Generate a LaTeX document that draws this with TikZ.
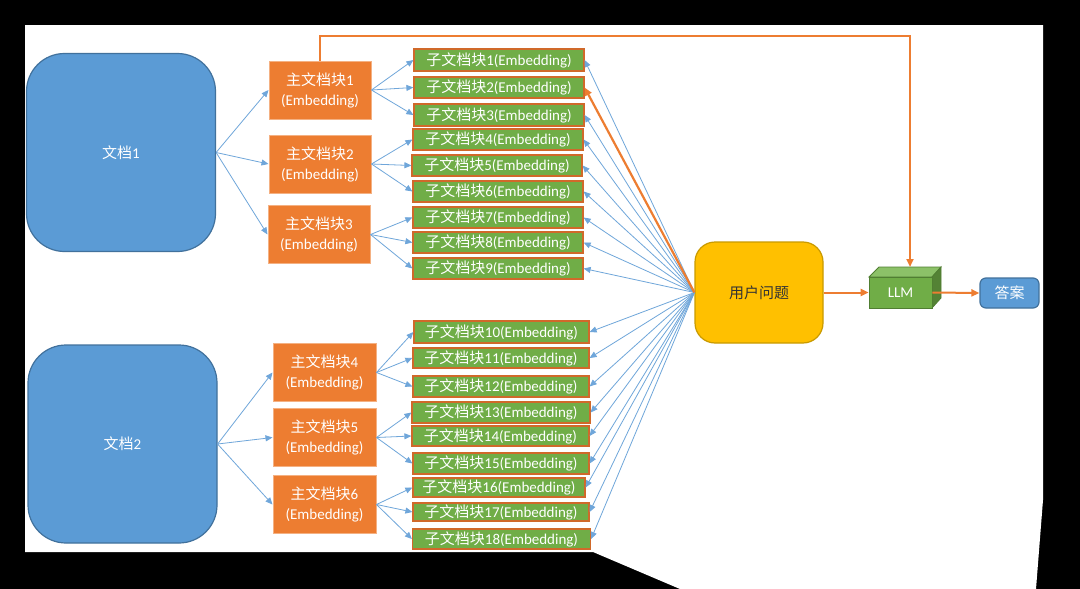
\documentclass[tikz,border=0pt]{standalone}
\usepackage{fontspec}
\setmainfont{Carlito}
\newfontfamily\cjk{Noto Sans CJK SC}
\usetikzlibrary{arrows.meta}
\newcommand\zh[1]{{\cjk #1}}
\definecolor{docblue}{HTML}{5B9BD5}
\definecolor{docline}{HTML}{41719C}
\definecolor{orangef}{HTML}{ED7D31}
\definecolor{orangeline}{HTML}{F4B183}
\definecolor{subline}{HTML}{D0692A}
\definecolor{greenf}{HTML}{70AD47}
\definecolor{greenline}{HTML}{507E32}
\definecolor{greentop}{HTML}{8CC168}
\definecolor{greenside}{HTML}{548235}
\definecolor{yellowf}{HTML}{FFC000}
\definecolor{yellowline}{HTML}{C99A00}
\definecolor{bluearrow}{HTML}{6FA6DA}
\begin{document}
\begin{tikzpicture}[x=1pt,y=-1pt,
  txt/.style={font=\fontsize{15}{20}\selectfont},
  docbox/.style={txt, draw=docline, fill=docblue, line width=1.2pt, rounded corners=38pt, text=white, inner sep=0pt},
  mainbox/.style={txt, draw=orangeline, fill=orangef, line width=1pt, text=white, align=center, inner sep=0pt, minimum width=102pt, minimum height=58pt},
  subbox/.style={txt, draw=subline, fill=greenf, line width=1.2pt, text=white, inner sep=0pt, minimum height=21pt},
  barrow/.style={draw=bluearrow, line width=0.8pt, -{Triangle[length=7pt,width=6pt]}},
  oarrow/.style={draw=orangef, line width=2pt, -{Triangle[length=8pt,width=7pt]}}
]
\useasboundingbox (0,0) rectangle (1080,589);
% frame
\fill[black] (0,0) rectangle (1080,589);
\fill[white] (25,25) -- (1043,25) -- (1043,500) -- (1036,589) -- (680,589) -- (593,552) -- (25,552) -- cycle;

% documents
\node[docbox, minimum width=189pt, minimum height=198pt] (d1) at (121,152.5) {\zh{文档}1};
\node[docbox, minimum width=189pt, minimum height=198pt] (d2) at (122.5,444) {\zh{文档}2};

% main chunks
\node[mainbox] (m1) at (320,90) {\zh{主文档块}1\\(Embedding)};
\node[mainbox] (m2) at (320,164) {\zh{主文档块}2\\(Embedding)};
\node[mainbox] (m3) at (319,234.5) {\zh{主文档块}3\\(Embedding)};
\node[mainbox, minimum width=103pt] (m4) at (324.5,372.5) {\zh{主文档块}4\\(Embedding)};
\node[mainbox, minimum width=103pt] (m5) at (324.5,437.5) {\zh{主文档块}5\\(Embedding)};
\node[mainbox, minimum width=103pt] (m6) at (324.5,504.5) {\zh{主文档块}6\\(Embedding)};

% sub chunks
\node[subbox, minimum width=170pt, minimum height=22pt] (s1) at (499,60) {\zh{子文档块}1(Embedding)};
\node[subbox, minimum width=170pt] (s2) at (499,87.5) {\zh{子文档块}2(Embedding)};
\node[subbox, minimum width=170pt, minimum height=22pt] (s3) at (499,115) {\zh{子文档块}3(Embedding)};
\node[subbox, minimum width=170pt] (s4) at (498,139.5) {\zh{子文档块}4(Embedding)};
\node[subbox, minimum width=170pt] (s5) at (497,165.5) {\zh{子文档块}5(Embedding)};
\node[subbox, minimum width=170pt] (s6) at (498,191.5) {\zh{子文档块}6(Embedding)};
\node[subbox, minimum width=170pt] (s7) at (498,217.5) {\zh{子文档块}7(Embedding)};
\node[subbox, minimum width=170pt] (s8) at (498,242.5) {\zh{子文档块}8(Embedding)};
\node[subbox, minimum width=170pt] (s9) at (498,268.5) {\zh{子文档块}9(Embedding)};
\node[subbox, minimum width=175pt, minimum height=22pt] (s10) at (501.5,332) {\zh{子文档块}10(Embedding)};
\node[subbox, minimum width=176pt, minimum height=20pt] (s11) at (501,358) {\zh{子文档块}11(Embedding)};
\node[subbox, minimum width=176pt] (s12) at (501,386.5) {\zh{子文档块}12(Embedding)};
\node[subbox, minimum width=178pt] (s13) at (501,412.5) {\zh{子文档块}13(Embedding)};
\node[subbox, minimum width=177pt, minimum height=20pt] (s14) at (500.5,436) {\zh{子文档块}14(Embedding)};
\node[subbox, minimum width=176pt] (s15) at (501,463.5) {\zh{子文档块}15(Embedding)};
\node[subbox, minimum width=172pt, minimum height=19pt] (s16) at (499,487.5) {\zh{子文档块}16(Embedding)};
\node[subbox, minimum width=176pt, minimum height=18pt] (s17) at (501,512) {\zh{子文档块}17(Embedding)};
\node[subbox, minimum width=178pt, minimum height=20pt] (s18) at (501.5,539) {\zh{子文档块}18(Embedding)};

% user question
\node[txt, draw=yellowline, fill=yellowf, line width=1.2pt, rounded corners=20pt, minimum width=128pt, minimum height=101pt, text=black!80, inner sep=0pt] (q) at (759,292.5) {\zh{用户问题}};

% LLM cube
\fill[greentop, draw=greenline, line width=0.8pt] (869,277) -- (879,267) -- (941,267) -- (932,277) -- cycle;
\fill[greenside, draw=greenline, line width=0.8pt] (932,277) -- (941,267) -- (941,298) -- (932,308) -- cycle;
\node[txt, draw=greenline, fill=greenf, line width=0.8pt, minimum width=63pt, minimum height=31pt, text=white, inner sep=0pt] (llm) at (900.5,292.5) {LLM};
\coordinate (llmtop) at (910,267);

% answer
\node[txt, draw=docline, fill=docblue, line width=1.2pt, rounded corners=6pt, minimum width=59pt, minimum height=30pt, text=white, inner sep=0pt] (ans) at (1009.5,293) {\zh{答案}};

% doc -> main
\foreach \m in {m1,m2,m3} \draw[barrow] (d1.east) -- (\m.west);
\foreach \m in {m4,m5,m6} \draw[barrow] (d2.east) -- (\m.west);
% main -> sub
\foreach \s in {s1,s2,s3} \draw[barrow] (m1.east) -- (\s.west);
\foreach \s in {s4,s5,s6} \draw[barrow] (m2.east) -- (\s.west);
\foreach \s in {s7,s8,s9} \draw[barrow] (m3.east) -- (\s.west);
\foreach \s in {s10,s11,s12} \draw[barrow] (m4.east) -- (\s.west);
\foreach \s in {s13,s14,s15} \draw[barrow] (m5.east) -- (\s.west);
\foreach \s in {s16,s17,s18} \draw[barrow] (m6.east) -- (\s.west);
% question -> subs
\foreach \s in {s1,s3,s4,s5,s6,s7,s8,s9,s10,s11,s12,s13,s14,s15,s16,s17,s18} \draw[barrow] (q.west) -- (\s.east);
\draw[oarrow, line width=2.2pt] (q.west) -- (s2.east);

% orange flow
\coordinate (topy) at (0,36);
\draw[oarrow] (m1.north) -- (m1.north |- topy) -| (llmtop);
\draw[oarrow] (q.east) -- (llm.west);
\draw[oarrow] (llm.east) -- (ans.west);
\end{tikzpicture}
\end{document}
